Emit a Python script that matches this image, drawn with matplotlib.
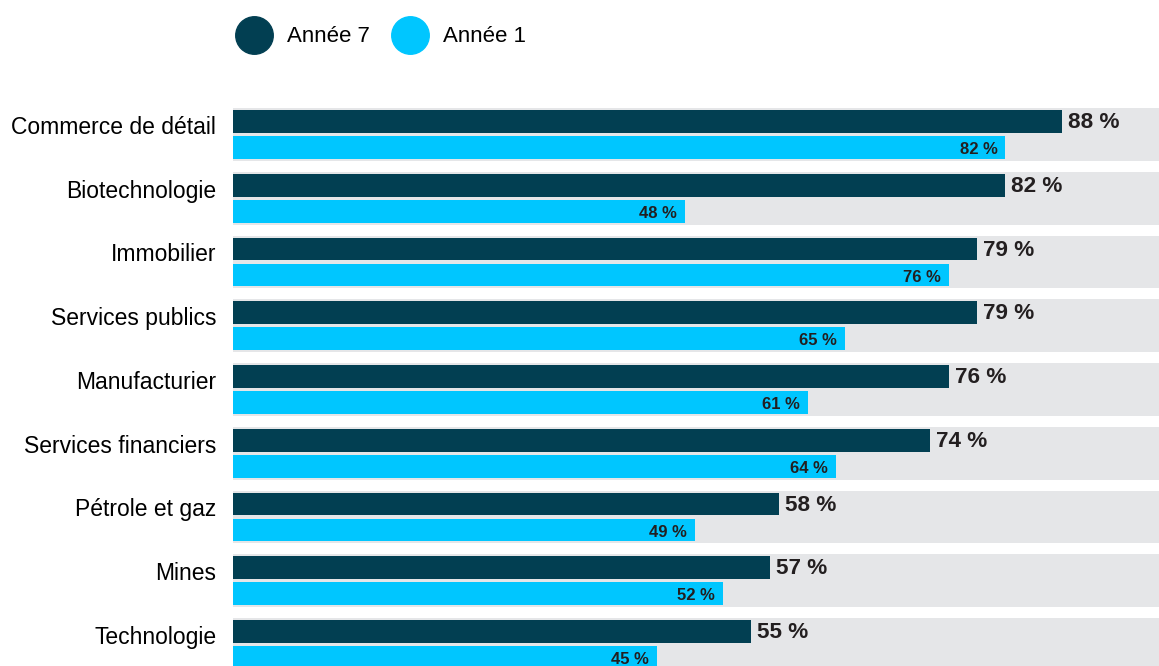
import numpy as np
import matplotlib.pyplot as plt
from matplotlib.lines import Line2D

plt.rcParams['font.family'] = ['Liberation Sans', 'DejaVu Sans']

# Données
secteurs = ["Commerce de détail", "Biotechnologie", "Immobilier", "Services publics",
            "Manufacturier", "Services financiers", "Pétrole et gaz", "Mines", "Technologie"]
annee_7 = [88, 82, 79, 79, 76, 74, 58, 57, 55]
annee_1 = [82, 48, 76, 65, 61, 64, 49, 52, 45]
series = ["Année 7", "Année 1"]

c_fonce = "#023f52"
c_clair = "#00c6ff"
c_gris = "#e5e6e8"
c_texte = "#231f20"

fig = plt.figure(figsize=(11.59, 6.66), dpi=100)
ax = fig.add_axes([233 / 1159, 0, 1 - 233 / 1159, 1 - 70 / 666])

y = np.arange(len(secteurs))
h = 0.36
dy = 0.204

# fond gris (échelle complète 100 %)
ax.barh(y, [100] * len(y), height=0.83, color=c_gris, zorder=1)
ax.barh(y - dy, annee_7, height=h, color=c_fonce, zorder=2)
ax.barh(y + dy, annee_1, height=h, color=c_clair, zorder=2)

for i in range(len(y)):
    ax.annotate(f"{annee_7[i]} %", (annee_7[i], y[i] - dy), xytext=(6, -1),
                textcoords="offset pixels", ha="left", va="center",
                fontsize=16.2, fontweight="bold", color=c_texte, zorder=3)
    ax.annotate(f"{annee_1[i]} %", (annee_1[i], y[i] + dy), xytext=(-8, -2),
                textcoords="offset pixels", ha="right", va="center",
                fontsize=12, fontweight="bold", color=c_texte, zorder=3)

ax.set_xlim(0, 98.3)
ax.set_ylim(8.337, -1.012)
ax.set_yticks(y - 0.15)
ax.set_yticklabels(secteurs, fontsize=16.5, color="black")
ax.tick_params(axis="y", length=0, pad=12)
ax.set_xticks([])
for s in ax.spines.values():
    s.set_visible(False)

handles = [Line2D([], [], marker="o", linestyle="none", markersize=27, color=c_fonce),
           Line2D([], [], marker="o", linestyle="none", markersize=27, color=c_clair)]
fig.legend(handles, series, loc="center left", bbox_to_anchor=(236 / 1159, 1 - 37 / 666),
           ncol=2, frameon=False, fontsize=16, handletextpad=0.7, columnspacing=1.0,
           handlelength=1.6, borderpad=0, borderaxespad=0)

fig.savefig("out.png", dpi=100)
